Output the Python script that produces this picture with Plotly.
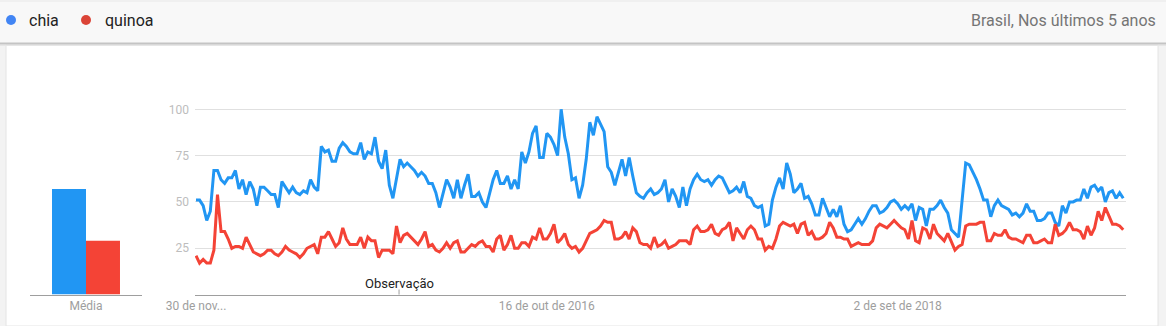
import pandas as pd
import plotly.graph_objects as go

# ---------------- data ----------------
START = "2014-11-30"
chia = [
    51, 51, 48, 40, 45, 67, 67, 62, 60, 63,
    63, 67, 57, 62, 54, 61, 57, 48, 58, 58,
    56, 54, 54, 47, 61, 58, 55, 58, 55, 54,
    56, 55, 62, 58, 56, 80, 77, 78, 72, 72,
    79, 82, 80, 77, 76, 76, 82, 73, 77, 76,
    85, 72, 68, 78, 59, 52, 63, 73, 69, 71,
    69, 67, 64, 66, 64, 60, 60, 55, 47, 54,
    62, 58, 52, 62, 52, 59, 65, 53, 53, 55,
    50, 47, 55, 62, 67, 60, 60, 64, 57, 62,
    57, 77, 71, 77, 87, 91, 74, 74, 87, 85,
    81, 75, 100, 85, 76, 62, 63, 52, 59, 73,
    93, 86, 96, 92, 88, 69, 66, 59, 66, 73,
    64, 74, 64, 55, 53, 52, 55, 57, 54, 55,
    57, 62, 50, 57, 53, 47, 58, 48, 57, 62,
    65, 62, 61, 62, 59, 62, 64, 63, 59, 55,
    56, 58, 55, 61, 53, 52, 48, 47, 48, 37,
    38, 51, 58, 63, 57, 71, 65, 55, 57, 60,
    52, 53, 49, 43, 43, 52, 47, 42, 46, 42,
    48, 38, 34, 35, 38, 41, 38, 41, 45, 48,
    48, 44, 45, 47, 50, 51, 49, 46, 48, 46,
    49, 40, 47, 46, 37, 46, 46, 48, 51, 47,
    44, 35, 33, 31, 51, 71, 70, 66, 62, 57,
    51, 51, 42, 48, 51, 48, 47, 46, 43, 44,
    42, 44, 49, 45, 45, 40, 40, 41, 44, 44,
    39, 37, 48, 44, 50, 50, 51, 51, 57, 52,
    58, 59, 56, 58, 50, 55, 56, 52, 55, 52,
]
quinoa = [
    21, 17, 19, 17, 17, 24, 54, 34, 34, 30,
    25, 26, 26, 25, 31, 27, 23, 22, 21, 22,
    24, 24, 22, 21, 23, 26, 24, 23, 22, 20,
    22, 25, 26, 27, 22, 31, 31, 34, 30, 26,
    28, 36, 30, 27, 27, 27, 31, 25, 31, 29,
    29, 20, 24, 24, 24, 22, 37, 28, 32, 33,
    31, 29, 27, 30, 34, 26, 27, 24, 23, 25,
    28, 25, 28, 29, 23, 23, 25, 27, 26, 28,
    29, 26, 26, 23, 30, 32, 24, 27, 32, 25,
    25, 28, 28, 26, 31, 30, 36, 30, 30, 33,
    38, 28, 30, 33, 27, 25, 26, 23, 25, 29,
    33, 34, 35, 37, 40, 39, 39, 30, 30, 31,
    34, 30, 36, 34, 28, 27, 27, 25, 31, 26,
    27, 29, 25, 26, 27, 29, 29, 29, 27, 35,
    37, 34, 34, 35, 38, 33, 32, 35, 36, 39,
    29, 36, 33, 30, 35, 37, 35, 30, 30, 24,
    26, 25, 30, 37, 39, 38, 37, 38, 33, 38,
    39, 32, 34, 30, 30, 31, 33, 39, 36, 31,
    31, 30, 30, 26, 27, 28, 27, 27, 27, 29,
    36, 38, 37, 36, 38, 40, 38, 36, 35, 30,
    40, 29, 28, 36, 35, 30, 38, 33, 31, 29,
    33, 28, 24, 26, 27, 37, 38, 38, 38, 39,
    39, 29, 29, 33, 32, 32, 35, 31, 30, 30,
    29, 28, 32, 32, 28, 28, 29, 30, 28, 28,
    38, 32, 33, 35, 39, 35, 35, 34, 30, 37,
    32, 36, 45, 40, 47, 42, 38, 38, 37, 35,
]
avg_labels = ["Média"]
chia_avg = [57]
quinoa_avg = [29]
y_ticks = [25, 50, 75, 100]
tick_dates = ["2014-11-30", "2016-10-16", "2018-09-02"]
tick_text = ["30 de nov...", "16 de out de 2016", "2 de set de 2018"]
obs_date = "2016-01-01"
obs_text = "Observação"
series_names = ["chia", "quinoa"]
region_text = "Brasil, Nos últimos 5 anos"

# ---------------- styling ----------------
W, H = 1166, 326
BLUE_LINE, RED_LINE = "#2196F3", "#F44336"
BLUE_DOT, RED_DOT = "#4285F4", "#DB4437"
FONT = "Roboto"

def px(x):
    return x / W

def py(y):
    return 1 - y / H

dates = pd.date_range(START, periods=len(chia), freq="7D")
start_ts = pd.Timestamp(START)
PX_PER_DAY = 3.58 / 7.0
x_left = start_ts + pd.Timedelta(days=(195 - 196) / PX_PER_DAY)
x_right = start_ts + pd.Timedelta(days=(1126 - 196) / PX_PER_DAY)

Y_MAX = 110
y_bottom_px = 294.6
y_top_px = y_bottom_px - Y_MAX * 1.853

fig = go.Figure()
fig.add_trace(go.Scatter(x=dates, y=chia, mode="lines", name=series_names[0],
                         line=dict(color=BLUE_LINE, width=3), xaxis="x", yaxis="y"))
fig.add_trace(go.Scatter(x=dates, y=quinoa, mode="lines", name=series_names[1],
                         line=dict(color=RED_LINE, width=3), xaxis="x", yaxis="y"))
fig.add_trace(go.Bar(x=avg_labels, y=chia_avg, name=series_names[0],
                     marker=dict(color=BLUE_LINE, line=dict(width=0)), xaxis="x2", yaxis="y2"))
fig.add_trace(go.Bar(x=avg_labels, y=quinoa_avg, name=series_names[1],
                     marker=dict(color=RED_LINE, line=dict(width=0)), xaxis="x2", yaxis="y2"))

shapes = [
    # page card
    dict(type="rect", xref="paper", yref="paper", x0=px(6), x1=px(1158), y0=0, y1=py(45),
         fillcolor="white", line=dict(color="#e4e4e4", width=1), layer="below"),
    # header
    dict(type="rect", xref="paper", yref="paper", x0=0, x1=1, y0=py(43), y1=1,
         fillcolor="#f8f8f8", line=dict(width=0), layer="below"),
    dict(type="rect", xref="paper", yref="paper", x0=0, x1=1, y0=py(2), y1=1,
         fillcolor="#f0f0f0", line=dict(width=0), layer="below"),
    dict(type="line", xref="paper", yref="paper", x0=0, x1=1, y0=py(43.5), y1=py(43.5),
         line=dict(color="#c4c4c4", width=2), layer="below"),
    dict(type="line", xref="paper", yref="paper", x0=0, x1=1, y0=py(45.5), y1=py(45.5),
         line=dict(color="#e6e6e6", width=1), layer="below"),
    # legend dots
    dict(type="circle", xref="paper", yref="paper", x0=px(6), x1=px(16), y0=py(25), y1=py(15),
         fillcolor=BLUE_DOT, line=dict(width=0)),
    dict(type="circle", xref="paper", yref="paper", x0=px(81), x1=px(91), y0=py(25), y1=py(15),
         fillcolor=RED_DOT, line=dict(width=0)),
    # observation tick
    dict(type="line", xref="x", yref="paper", x0=obs_date, x1=obs_date,
         y0=py(294.6), y1=py(289.5), line=dict(color="#9e9e9e", width=1)),
]

annotations = [
    dict(text=series_names[0], x=px(27), y=py(20.5), xref="paper", yref="paper",
         xanchor="left", yanchor="middle", showarrow=False,
         font=dict(family=FONT, size=16, color="#222222")),
    dict(text=series_names[1], x=px(103), y=py(20.5), xref="paper", yref="paper",
         xanchor="left", yanchor="middle", showarrow=False,
         font=dict(family=FONT, size=16, color="#222222")),
    dict(text=region_text, x=px(1158), y=py(20.5), xref="paper", yref="paper",
         xanchor="right", yanchor="middle", showarrow=False,
         font=dict(family=FONT, size=16, color="#757575")),
    dict(text=obs_text, x=obs_date, y=py(283), xref="x", yref="paper",
         xanchor="center", yanchor="middle", showarrow=False,
         font=dict(family=FONT, size=13, color="#222222")),
]

fig.update_layout(
    width=W, height=H,
    margin=dict(l=0, r=0, t=0, b=0, pad=0),
    paper_bgcolor="#f3f3f3",
    plot_bgcolor="white",
    showlegend=False,
    barmode="group",
    bargap=0.393,
    bargroupgap=0,
    font=dict(family=FONT),
    shapes=shapes,
    annotations=annotations,
    xaxis=dict(domain=[px(195), px(1126)], type="date", automargin=False,
               range=[x_left, x_right], tickvals=tick_dates, ticktext=tick_text,
               showgrid=False, zeroline=False, showline=True,
               linecolor="#9e9e9e", linewidth=1, ticks="",
               tickfont=dict(family=FONT, size=12, color="#9e9e9e")),
    yaxis=dict(domain=[py(y_bottom_px), py(y_top_px)], range=[0, Y_MAX], automargin=False,
               tickvals=y_ticks, showgrid=True, gridcolor="#e0e0e0", gridwidth=1,
               zeroline=False, showline=False, ticks="", ticklabelstandoff=5,
               tickfont=dict(family=FONT, size=12, color="#bdbdbd")),
    xaxis2=dict(domain=[px(30), px(142)], anchor="y2", showgrid=False, zeroline=False,
                automargin=False,
                showline=True, linecolor="#9e9e9e", linewidth=1, ticks="",
                tickfont=dict(family=FONT, size=12, color="#9e9e9e")),
    yaxis2=dict(domain=[py(y_bottom_px), py(y_top_px)], range=[0, Y_MAX], anchor="x2",
                automargin=False,
                showgrid=False, zeroline=False, showline=False, showticklabels=False),
)

fig.write_html("out.html")
